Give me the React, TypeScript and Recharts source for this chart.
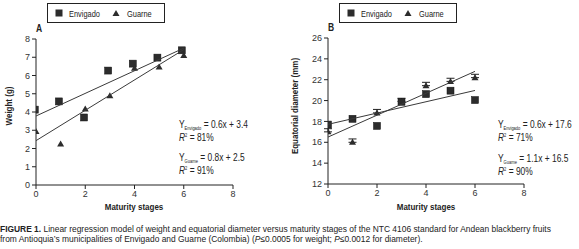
import React from 'react'
import { ScatterChart, Scatter, XAxis, YAxis, ErrorBar } from 'recharts'

// ─── Data ─────────────────────────────────────────────────────────────────────

const stageTicks = [0, 2, 4, 6, 8]
const weightTicks = [0, 1, 2, 3, 4, 5, 6, 7, 8]
const diameterTicks = [12, 14, 16, 18, 20, 22, 24, 26]

// A: weight (g)
const weightEnvigado = [
  { x: -0.05, y: 4.13 },
  { x: 0.93, y: 4.58 },
  { x: 1.95, y: 3.7 },
  { x: 2.93, y: 6.27 },
  { x: 3.93, y: 6.65 },
  { x: 4.93, y: 6.98 },
  { x: 5.92, y: 7.38 },
]
const weightGuarne = [
  { x: 0, y: 2.93 },
  { x: 1, y: 2.25 },
  { x: 2, y: 4.16 },
  { x: 3, y: 4.89 },
  { x: 4, y: 6.4 },
  { x: 5, y: 6.47 },
  { x: 6, y: 7.1 },
]
const weightFitEnvigado = [
  { x: 0, y: 3.78 },
  { x: 6, y: 7.5 },
]
const weightFitGuarne = [
  { x: 0, y: 2.43 },
  { x: 6, y: 7.42 },
]

// B: equatorial diameter (mm)
const diameterEnvigado = [
  { x: 0, y: 17.7 },
  { x: 1, y: 18.25 },
  { x: 2, y: 17.57 },
  { x: 3, y: 19.88 },
  { x: 4, y: 20.62 },
  { x: 5, y: 20.95 },
  { x: 6, y: 20.05 },
]
const diameterGuarne = [
  { x: 0, y: 17.0, err: [0, 0.3] },
  { x: 1, y: 16.0, err: [0, 0.32] },
  { x: 2, y: 18.82, err: [0, 0.33] },
  { x: 3, y: 19.92, err: [0, 0.3] },
  { x: 4, y: 21.43, err: [0, 0.32] },
  { x: 5, y: 21.84, err: [0, 0.3] },
  { x: 6, y: 22.2, err: [0, 0.32] },
]
const diameterFitEnvigado = [
  { x: 0, y: 17.72 },
  { x: 6, y: 20.97 },
]
const diameterFitGuarne = [
  { x: 0, y: 16.5 },
  { x: 6, y: 22.8 },
]

// ─── Styles ───────────────────────────────────────────────────────────────────

const SANS = "'Liberation Sans', Arial, sans-serif"
const INK = '#222'
const MARK = '#2c2c2c'
const FIT = '#3a3a3a'

const tickStyle = { fontSize: 9, fill: '#333', fontFamily: SANS }

// ─── Marker shapes ────────────────────────────────────────────────────────────

function SquareMark(props: any) {
  const { cx, cy } = props
  if (cx == null || cy == null) return <g />
  return <rect x={cx - 3.5} y={cy - 3.5} width={7} height={7} fill={MARK} stroke="#111" strokeWidth={0.5} />
}

function TriangleMark(props: any) {
  const { cx, cy } = props
  if (cx == null || cy == null) return <g />
  return <path d={`M${cx},${cy - 3.5} L${cx + 3.5},${cy + 2.5} L${cx - 3.5},${cy + 2.5} Z`} fill={MARK} />
}

const NoMark = () => <g />

// ─── Condensed text helpers (no narrow font installed, so squeeze Arial) ─────

function Cond({ left, top, scale = 0.8, size = 10, bold = false, children }: {
  left: number; top: number; scale?: number; size?: number; bold?: boolean; children: React.ReactNode
}) {
  return (
    <div
      style={{
        position: 'absolute', left, top, fontFamily: SANS, fontSize: size, lineHeight: 1,
        fontWeight: bold ? 'bold' : 'normal', color: INK, whiteSpace: 'nowrap',
        transform: `translateY(-50%) scaleX(${scale})`, transformOrigin: '0 50%',
      }}
    >
      {children}
    </div>
  )
}

function CenterText({ cx, cy, rotate = 0, scale = 0.84, size = 9.5, children }: {
  cx: number; cy: number; rotate?: number; scale?: number; size?: number; children: React.ReactNode
}) {
  return (
    <div
      style={{
        position: 'absolute', left: cx, top: cy, fontFamily: SANS, fontSize: size, lineHeight: 1,
        fontWeight: 'bold', color: INK, whiteSpace: 'nowrap',
        transform: `translate(-50%, -50%) rotate(${rotate}deg) scaleX(${scale})`, transformOrigin: '50% 50%',
      }}
    >
      {children}
    </div>
  )
}

function LegendBox({ left }: { left: number }) {
  return (
    <div style={{ position: 'absolute', left, top: 3, width: 116, height: 18, border: `1px solid ${INK}` }}>
      <svg width={116} height={18} style={{ position: 'absolute', left: 0, top: 0 }}>
        <rect x={7.5} y={5.5} width={7} height={7} fill={MARK} />
        <path d="M68,6 L71.5,12 L64.5,12 Z" fill={MARK} />
      </svg>
      <Cond left={21} top={9.5} size={9.5} scale={0.78}>Envigado</Cond>
      <Cond left={79} top={9.5} size={9.5} scale={0.78}>Guarne</Cond>
    </div>
  )
}

function Equation({ left, top, site, slope, intercept }: {
  left: number; top: number; site: string; slope: string; intercept: string
}) {
  return (
    <Cond left={left} top={top} size={10.5} scale={0.8}>
      Y<span style={{ fontSize: 5, position: 'relative', top: 2 }}>{site}</span> = {slope}x + {intercept}
    </Cond>
  )
}

function RSquared({ left, top, r2 }: { left: number; top: number; r2: string }) {
  return (
    <Cond left={left} top={top} size={10.5} scale={0.8}>
      <i>R</i><span style={{ fontSize: 5, position: 'relative', top: -4 }}>2</span> = {r2}
    </Cond>
  )
}

// ─── Component ────────────────────────────────────────────────────────────────

export default function App() {
  return (
    <div style={{ position: 'absolute', left: 0, top: 0, width: 579, height: 249, background: '#fff', overflow: 'hidden' }}>
      <LegendBox left={47} />
      <LegendBox left={339} />
      <Cond left={36} top={29} size={10} bold scale={0.85}>A</Cond>
      <Cond left={328} top={28} size={10} bold scale={0.85}>B</Cond>

      {/* A: weight */}
      <div style={{ position: 'absolute', left: 0, top: 0 }}>
        <ScatterChart width={290} height={215} margin={{ top: 39, right: 57, bottom: 0, left: 0 }}>
          <XAxis
            type="number" dataKey="x" domain={[0, 8]} ticks={stageTicks} allowDataOverflow
            height={30} tickSize={4} tick={tickStyle}
            axisLine={{ stroke: INK }} tickLine={{ stroke: INK }}
          />
          <YAxis
            type="number" dataKey="y" domain={[0, 8]} ticks={weightTicks} allowDataOverflow
            width={36} tickSize={4} tick={tickStyle}
            axisLine={{ stroke: INK }} tickLine={{ stroke: INK }}
          />
          <Scatter data={weightEnvigado} shape={SquareMark} isAnimationActive={false} />
          <Scatter data={weightGuarne} shape={TriangleMark} isAnimationActive={false} />
          <Scatter data={weightFitEnvigado} line={{ stroke: FIT, strokeWidth: 1 }} shape={NoMark} isAnimationActive={false} />
          <Scatter data={weightFitGuarne} line={{ stroke: FIT, strokeWidth: 1 }} shape={NoMark} isAnimationActive={false} />
        </ScatterChart>
      </div>

      {/* B: equatorial diameter */}
      <div style={{ position: 'absolute', left: 289, top: 0 }}>
        <ScatterChart width={290} height={215} margin={{ top: 38, right: 55, bottom: 0, left: 0 }}>
          <XAxis
            type="number" dataKey="x" domain={[0, 8]} ticks={stageTicks} allowDataOverflow
            height={31} tickSize={4} tick={tickStyle}
            axisLine={{ stroke: INK }} tickLine={{ stroke: INK }}
          />
          <YAxis
            type="number" dataKey="y" domain={[12, 26]} ticks={diameterTicks} allowDataOverflow
            width={39} tickSize={4} tick={tickStyle}
            axisLine={{ stroke: INK }} tickLine={{ stroke: INK }}
          />
          <Scatter data={diameterGuarne} shape={TriangleMark} isAnimationActive={false}>
            <ErrorBar dataKey="err" direction="y" width={4} stroke={INK} strokeWidth={1} />
          </Scatter>
          <Scatter data={diameterEnvigado} shape={SquareMark} isAnimationActive={false} />
          <Scatter data={diameterFitEnvigado} line={{ stroke: FIT, strokeWidth: 1 }} shape={NoMark} isAnimationActive={false} />
          <Scatter data={diameterFitGuarne} line={{ stroke: FIT, strokeWidth: 1 }} shape={NoMark} isAnimationActive={false} />
        </ScatterChart>
      </div>

      {/* axis titles */}
      <CenterText cx={9} cy={106} rotate={-90}>Weight (g)</CenterText>
      <CenterText cx={295} cy={106} rotate={-90}>Equatorial diameter (mm)</CenterText>
      <CenterText cx={134} cy={207}>Maturity stages</CenterText>
      <CenterText cx={426} cy={207}>Maturity stages</CenterText>

      {/* regression equations */}
      <Equation left={179} top={124} site="Envigado" slope="0.6" intercept="3.4" />
      <RSquared left={179} top={137} r2="81%" />
      <Equation left={179} top={157} site="Guarne" slope="0.8" intercept="2.5" />
      <RSquared left={179} top={170} r2="91%" />
      <Equation left={498} top={124} site="Envigado" slope="0.6" intercept="17.6" />
      <RSquared left={498} top={137} r2="71%" />
      <Equation left={498} top={158} site="Guarne" slope="1.1" intercept="16.5" />
      <RSquared left={498} top={171} r2="90%" />

      {/* caption */}
      <div
        style={{
          position: 'absolute', left: 0, top: 224, fontFamily: SANS, fontSize: 9.3, lineHeight: '10px',
          color: INK, whiteSpace: 'nowrap', transform: 'scaleX(0.905)', transformOrigin: '0 0',
        }}
      >
        <b>FIGURE 1.</b> Linear regression model of weight and equatorial diameter versus maturity stages of the NTC 4106 standard for Andean blackberry fruits
        <br />
        from Antioquia’s municipalities of Envigado and Guarne (Colombia) (<i>P</i>≤0.0005 for weight; <i>P</i>≤0.0012 for diameter).
      </div>
    </div>
  )
}
